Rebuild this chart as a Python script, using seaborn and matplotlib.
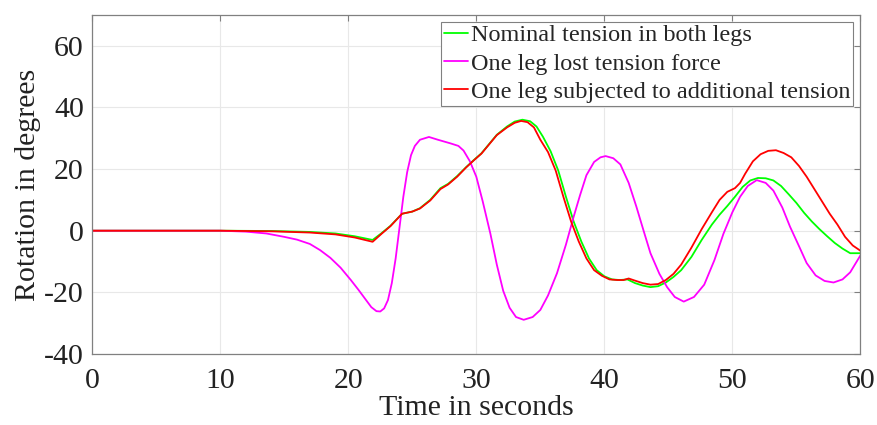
import matplotlib
matplotlib.use("Agg")
import matplotlib.pyplot as plt
import seaborn as sns
import pandas as pd

# ---- data ----
t_nominal = [0, 10, 14, 17, 19, 20.5, 21.9, 22.6, 23.3, 24.2, 25.0, 25.6, 26.4, 27.2, 27.8, 28.5, 29.2, 29.8,
             30.4, 31.0, 31.6, 32.4, 33.0, 33.6, 34.2, 34.7, 35.2, 35.8, 36.4, 37.0, 37.6, 38.2, 38.8, 39.4,
             40.0, 40.6, 41.2, 41.8, 42.4, 43.0, 43.6, 44.2, 44.8, 45.4, 46.0, 46.8, 47.6, 48.4, 49.0, 49.6,
             50.2, 50.8, 51.4, 52.0, 52.6, 53.2, 53.8, 54.4, 55.0, 55.6, 56.2, 56.8, 57.4, 58.0, 58.6, 59.2, 60]
y_nominal = [0, 0, -0.1, -0.4, -0.9, -1.8, -3.0, -0.8, 1.6, 5.5, 6.2, 7.3, 10, 13.8, 15.2, 17.7, 20.6, 22.9,
             25.1, 28.1, 31.1, 33.8, 35.4, 36, 35.5, 33.8, 30.5, 25.8, 19.5, 11, 3, -3.5, -9, -12.8,
             -14.8, -15.8, -16, -15.8, -17, -17.8, -18.3, -18, -16.8, -15, -12.8, -8.5, -3, 2, 5.2, 8,
             11, 14.2, 16.3, 17.1, 17, 16.3, 14.5, 11.8, 9, 5.8, 3, 0.5, -1.8, -4, -5.8, -7.3, -7.3]

t_lost = [0, 10, 12, 13.6, 15, 16.0, 17.0, 17.8, 18.6, 19.4, 20.2, 20.8, 21.3, 21.8, 22.2, 22.5, 22.8, 23.1,
          23.4, 23.7, 24.0, 24.3, 24.6, 24.9, 25.2, 25.6, 26.3, 27.0, 28.0, 28.6, 29.0, 29.5, 30.0, 30.5,
          31.1, 31.6, 32.1, 32.6, 33.1, 33.7, 34.4, 35.0, 35.6, 36.3, 37.0, 37.6, 38.1, 38.6, 39.2, 39.7,
          40.1, 40.7, 41.25, 41.9, 42.5, 43.1, 43.6, 44.3, 44.9, 45.5, 46.2, 47.0, 47.8, 48.6, 49.3, 50.0,
          50.6, 51.2, 51.9, 52.6, 53.2, 53.9, 54.5, 55.2, 55.8, 56.5, 57.2, 57.9, 58.6, 59.2, 60]
y_lost = [0, 0, -0.3, -0.9, -2, -2.9, -4.3, -6.3, -8.8, -12, -16, -19.2, -22, -24.8, -26.1, -26.2, -25.2, -22.5,
          -17, -9, 1, 11, 19, 24.5, 27.5, 29.5, 30.4, 29.5, 28.3, 27.5, 26, 22.5, 17.5, 9.5,
          -1, -11, -19.5, -25, -28, -28.9, -28, -25.7, -21, -13.8, -4.5, 4.5, 11.5, 18, 22.3, 23.8,
          24.2, 23.5, 21.5, 15.5, 7.8, -0.5, -7.3, -14, -18.3, -21.5, -23, -21.5, -17.5, -9.5, -1, 6,
          11, 14.5, 16.4, 15.5, 13, 7.5, 1.3, -5, -10.5, -14.5, -16.3, -16.8, -15.8, -13.5, -8]

t_additional = [0, 10, 14, 17, 19, 20.5, 21.9, 22.6, 23.3, 24.2, 25.0, 25.6, 26.4, 27.2, 27.8, 28.5, 29.2,
                29.8, 30.4, 31.0, 31.6, 32.4, 33.0, 33.5, 34.0, 34.5, 35.0, 35.6, 36.2, 36.8, 37.4, 38.0,
                38.6, 39.2, 39.8, 40.4, 41.0, 41.5, 41.9, 42.4, 43.0, 43.6, 44.2, 44.8, 45.4, 46.0, 46.8,
                47.6, 48.4, 49.0, 49.6, 50.2, 50.6, 51.0, 51.6, 52.2, 52.8, 53.4, 54.0, 54.6, 55.2, 55.8,
                56.4, 57.0, 57.6, 58.2, 58.8, 59.4, 60]
y_additional = [0, 0, -0.2, -0.6, -1.2, -2.2, -3.6, -1, 1.5, 5.5, 6.2, 7.2, 9.8, 13.5, 15, 17.5, 20.5,
                22.8, 25, 28, 31, 33.5, 35, 35.6, 35.2, 33.5, 29.5, 25.5, 19.5, 11, 3, -3.5,
                -9, -12.8, -14.6, -15.8, -16, -16, -15.5, -16.2, -17, -17.5, -17.3, -16, -14, -11, -5.5,
                0.5, 6, 10, 12.6, 13.8, 15.5, 18.5, 22.5, 24.8, 25.9, 26.1, 25.2, 23.8, 21, 17.5,
                13.5, 9.5, 5.5, 2, -2, -4.8, -6.5]

labels = ["Nominal tension in both legs",
          "One leg lost tension force",
          "One leg subjected to additional tension"]
colors = ["#00ff00", "#ff00ff", "#ff0000"]

x_ticks = [0, 10, 20, 30, 40, 50, 60]
y_ticks = [-40, -20, 0, 20, 40, 60]

df = pd.concat([
    pd.DataFrame({"t": t_nominal, "y": y_nominal, "series": labels[0]}),
    pd.DataFrame({"t": t_lost, "y": y_lost, "series": labels[1]}),
    pd.DataFrame({"t": t_additional, "y": y_additional, "series": labels[2]}),
], ignore_index=True)

sns.set_style("white")
plt.rcParams["font.family"] = ["Liberation Serif", "DejaVu Serif"]

fig, ax = plt.subplots(figsize=(8.78, 4.25), dpi=100)
fig.subplots_adjust(left=0.105, right=0.980, top=0.965, bottom=0.167)

sns.lineplot(data=df, x="t", y="y", hue="series", hue_order=labels,
             palette=dict(zip(labels, colors)), sort=False, estimator=None,
             linewidth=1.3, ax=ax)

ax.set_xlim(0, 60)
ax.set_ylim(-40, 70)
ax.set_xticks(x_ticks)
ax.set_yticks(y_ticks)
ax.set_yticklabels([str(v) for v in y_ticks])
ax.grid(True, color="#e8e8e8", linewidth=0.8)
ax.set_axisbelow(True)
for s in ax.spines.values():
    s.set_color("#808080")
    s.set_linewidth(0.9)
ax.tick_params(direction="in", length=4, width=0.8, color="#808080",
               labelsize=21.5, labelcolor="#222222", top=True, right=True,
               labeltop=False, labelright=False)
ax.tick_params(axis="x", pad=10)
ax.tick_params(axis="y", pad=6)
ax.set_xlabel("Time in seconds", fontsize=21.5, color="#222222", labelpad=1)
ax.set_ylabel("Rotation in degrees", fontsize=21.5, color="#222222", labelpad=2)

leg = ax.legend(loc="upper right", bbox_to_anchor=(853 / 878, 1 - 21.5 / 425),
                bbox_transform=fig.transFigure, fontsize=17.5, frameon=True,
                fancybox=False, edgecolor="#808080", framealpha=1,
                handlelength=1.0, handletextpad=0.1, labelspacing=0.25,
                borderpad=0.12, borderaxespad=0)
leg.get_frame().set_linewidth(0.8)
for line in leg.get_lines():
    line.set_linewidth(1.3)

fig.savefig("out.png", dpi=100)
